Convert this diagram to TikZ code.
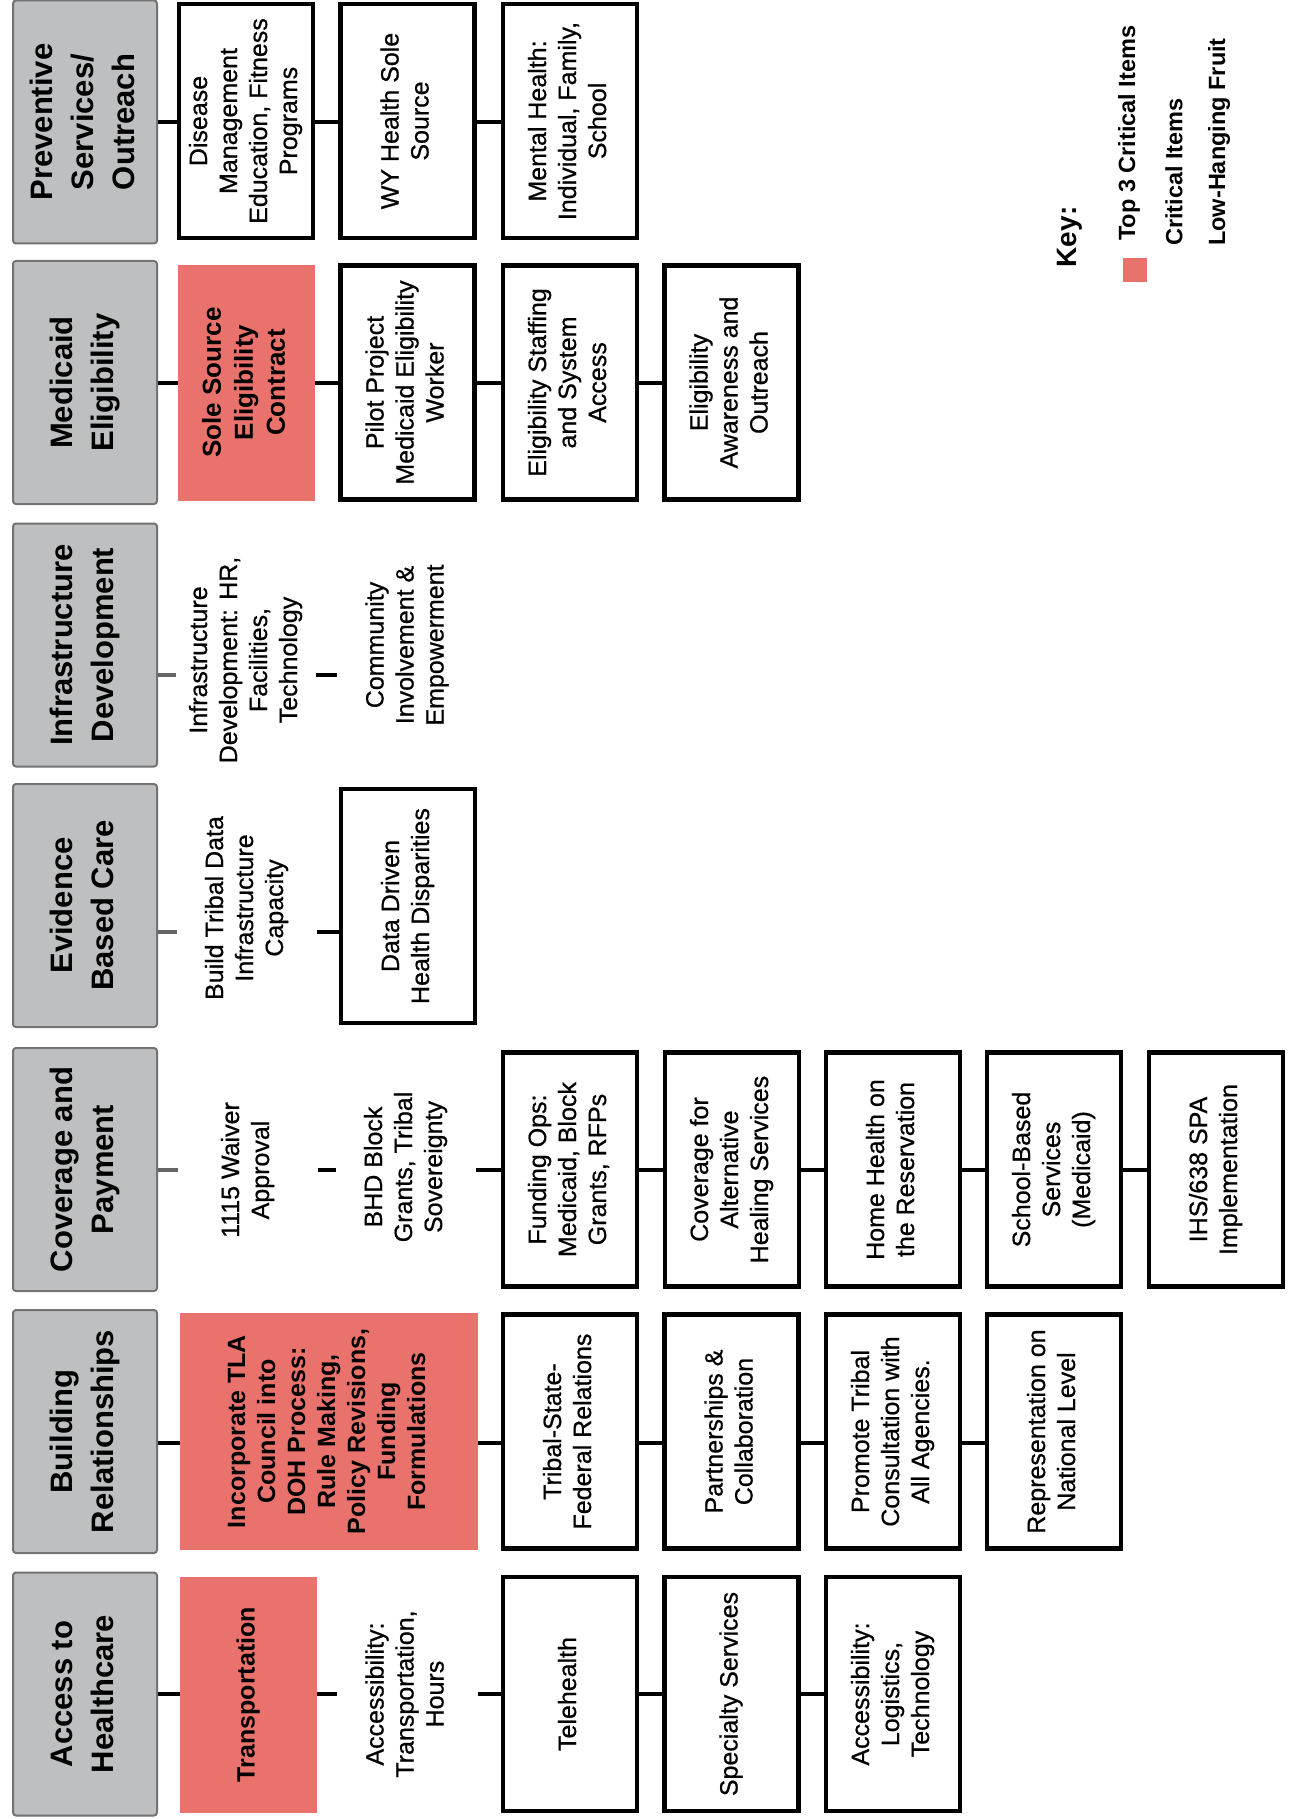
\documentclass[tikz,border=0pt]{standalone}
\usepackage{fontspec}
\setmainfont{Liberation Sans}
\newfontfamily\medsans{Liberation Sans}[FakeBold=0.7]
\usepackage{graphicx}
\definecolor{tlared}{RGB}{234,114,108}
\definecolor{hdrgray}{RGB}{190,191,192}
\newcommand{\vt}[1]{\rotatebox{90}{\begin{tabular}{@{}c@{}}#1\end{tabular}}}
\begin{document}
\begin{tikzpicture}[x=1pt,y=-1pt,
  hdr/.style={draw=black!55, line width=2pt, fill=hdrgray, rounded corners=3pt,
    minimum width=144pt, minimum height=243pt, inner sep=0pt,
    font=\fontsize{31}{41}\selectfont\bfseries},
  wbox/.style={draw=black, line width=4.5pt, fill=white,
    minimum width=134pt, minimum height=234pt, inner sep=0pt,
    font=\medsans\fontsize{25}{30}\selectfont},
  rbox/.style={fill=tlared, minimum width=137pt, minimum height=236pt, inner sep=0pt,
    font=\fontsize{25}{30}\selectfont\bfseries},
  tbox/.style={minimum width=140pt, minimum height=238pt, inner sep=0pt,
    font=\medsans\fontsize{25}{30}\selectfont},
  conn/.style={line width=4pt, draw=black},
  gconn/.style={line width=4pt, draw=black!60},
  keyhd/.style={inner sep=0pt, font=\fontsize{28}{32}\selectfont\bfseries},
  keytx/.style={inner sep=0pt, font=\fontsize{23.5}{28}\selectfont\bfseries}
]
\fill[white] (0,0) rectangle (1295,1819);
\useasboundingbox (0,0) rectangle (1295,1819);

% row connector levels
\coordinate (r1) at (0,122);
\coordinate (r2) at (0,383);
\coordinate (r3) at (0,675);
\coordinate (r4) at (0,932);
\coordinate (r5) at (0,1170);
\coordinate (r6) at (0,1443);
\coordinate (r7) at (0,1694);

% Row 1: Preventive Services / Outreach
\node[hdr] (g1) at (85,122) {\vt{Preventive\\Services/\\Outreach}};
\node[wbox] (a1) at (246,121) {\vt{Disease\\Management\\Education, Fitness\\Programs}};
\node[wbox] (b1) at (407.5,121) {\vt{WY Health Sole\\Source}};
\node[wbox] (c1) at (570,121) {\vt{Mental Health:\\Individual, Family,\\School}};
\draw[conn] (g1.east |- r1) -- (a1.west |- r1);
\draw[conn] (a1.east |- r1) -- (b1.west |- r1);
\draw[conn] (b1.east |- r1) -- (c1.west |- r1);

% Row 2: Medicaid Eligibility
\node[hdr] (g2) at (85,382.5) {\vt{Medicaid\\Eligibility}};
\node[rbox] (a2) at (246.5,382.5) {\fontsize{26}{32}\selectfont\vt{Sole Source\\Eligibility\\Contract}};
\node[wbox] (b2) at (407.5,382.5) {\vt{Pilot Project\\Medicaid Eligibility\\Worker}};
\node[wbox] (c2) at (570,382.5) {\vt{Eligibility Staffing\\and System\\Access}};
\node[wbox] (d2) at (731.5,382.5) {\vt{Eligibility\\Awareness and\\Outreach}};
\draw[conn] (g2.east |- r2) -- (a2.west |- r2);
\draw[conn] (a2.east |- r2) -- (b2.west |- r2);
\draw[conn] (b2.east |- r2) -- (c2.west |- r2);
\draw[conn] (c2.east |- r2) -- (d2.west |- r2);

% Row 3: Infrastructure Development
\node[hdr] (g3) at (85,645) {\vt{Infrastructure\\Development}};
\node[tbox] (a3) at (246,660) {\vt{Infrastructure\\Development: HR,\\Facilities,\\Technology}};
\node[tbox] (b3) at (407.5,645) {\vt{Community\\Involvement \&\\Empowerment}};
\draw[gconn] (g3.east |- r3) -- (a3.west |- r3);
\draw[conn] (a3.east |- r3) -- (b3.west |- r3);

% Row 4: Evidence Based Care
\node[hdr] (g4) at (85,905.5) {\vt{Evidence\\Based Care}};
\node[tbox] (a4) at (247,908) {\vt{Build Tribal Data\\Infrastructure\\Capacity}};
\node[wbox] (b4) at (408,906) {\vt{Data Driven\\Health Disparities}};
\draw[gconn] (g4.east |- r4) -- (a4.west |- r4);
\draw[conn] (a4.east |- r4) -- (b4.west |- r4);

% Row 5: Coverage and Payment
\node[hdr] (g5) at (85,1169.5) {\vt{Coverage and\\Payment}};
\node[tbox] (a5) at (248,1170) {\vt{1115 Waiver\\Approval}};
\node[tbox] (b5) at (406,1167) {\vt{BHD Block\\Grants, Tribal\\Sovereignty}};
\node[wbox] (c5) at (570,1169.5) {\vt{Funding Ops:\\Medicaid, Block\\Grants, RFPs}};
\node[wbox] (d5) at (732,1169.5) {\vt{Coverage for\\Alternative\\Healing Services}};
\node[wbox] (e5) at (893,1169.5) {\vt{Home Health on\\the Reservation}};
\node[wbox] (f5) at (1054,1169.5) {\vt{School-Based\\Services\\(Medicaid)}};
\node[wbox] (h5) at (1216,1169.5) {\vt{IHS/638 SPA\\Implementation}};
\draw[gconn] (g5.east |- r5) -- (a5.west |- r5);
\draw[conn] (a5.east |- r5) -- (b5.west |- r5);
\draw[conn] (b5.east |- r5) -- (c5.west |- r5);
\draw[conn] (c5.east |- r5) -- (d5.west |- r5);
\draw[conn] (d5.east |- r5) -- (e5.west |- r5);
\draw[conn] (e5.east |- r5) -- (f5.west |- r5);
\draw[conn] (f5.east |- r5) -- (h5.west |- r5);

% Row 6: Building Relationships
\node[hdr] (g6) at (85,1431.5) {\vt{Building\\Relationships}};
\node[rbox, minimum width=298pt, minimum height=237pt] (a6) at (329,1431.5)
  {\vt{Incorporate TLA\\Council into\\DOH Process:\\Rule Making,\\Policy Revisions,\\Funding\\Formulations}};
\node[wbox] (b6) at (570,1431.5) {\vt{Tribal-State-\\Federal Relations}};
\node[wbox] (c6) at (731.5,1431.5) {\vt{Partnerships \&\\Collaboration}};
\node[wbox] (d6) at (893,1431.5) {\vt{Promote Tribal\\Consultation with\\All Agencies.}};
\node[wbox] (e6) at (1054,1431.5) {\vt{Representation on\\National Level}};
\draw[conn] (g6.east |- r6) -- (a6.west |- r6);
\draw[conn] (a6.east |- r6) -- (b6.west |- r6);
\draw[conn] (b6.east |- r6) -- (c6.west |- r6);
\draw[conn] (c6.east |- r6) -- (d6.west |- r6);
\draw[conn] (d6.east |- r6) -- (e6.west |- r6);

% Row 7: Access to Healthcare
\node[hdr] (g7) at (85,1694) {\vt{Access to\\Healthcare}};
\node[rbox] (a7) at (248.5,1694.5) {\vt{Transportation}};
\node[tbox] (b7) at (407.5,1694) {\vt{Accessibility:\\Transportation,\\Hours}};
\node[wbox] (c7) at (570,1694) {\vt{Telehealth}};
\node[wbox] (d7) at (731.5,1694) {\vt{Specialty Services}};
\node[wbox] (e7) at (893,1694) {\vt{Accessibility:\\Logistics,\\Technology}};
\draw[conn] (g7.east |- r7) -- (a7.west |- r7);
\draw[conn] (a7.east |- r7) -- (b7.west |- r7);
\draw[conn] (b7.east |- r7) -- (c7.west |- r7);
\draw[conn] (c7.east |- r7) -- (d7.west |- r7);
\draw[conn] (d7.east |- r7) -- (e7.west |- r7);

% Key
\node[keyhd] (key) at (1070,237) {\rotatebox{90}{Key:}};
\node[keytx, anchor=south] (k1) at (1129,241) {\rotatebox{90}{Top 3 Critical Items}};
\node[keytx, anchor=south] (k2) at (1174,246) {\rotatebox{90}{Critical Items}};
\node[keytx, anchor=south] (k3) at (1219,246) {\rotatebox{90}{Low-Hanging Fruit}};
\node[fill=tlared, minimum width=24pt, minimum height=24pt, inner sep=0pt] (ksq) at (1135,270) {};
\end{tikzpicture}
\end{document}
